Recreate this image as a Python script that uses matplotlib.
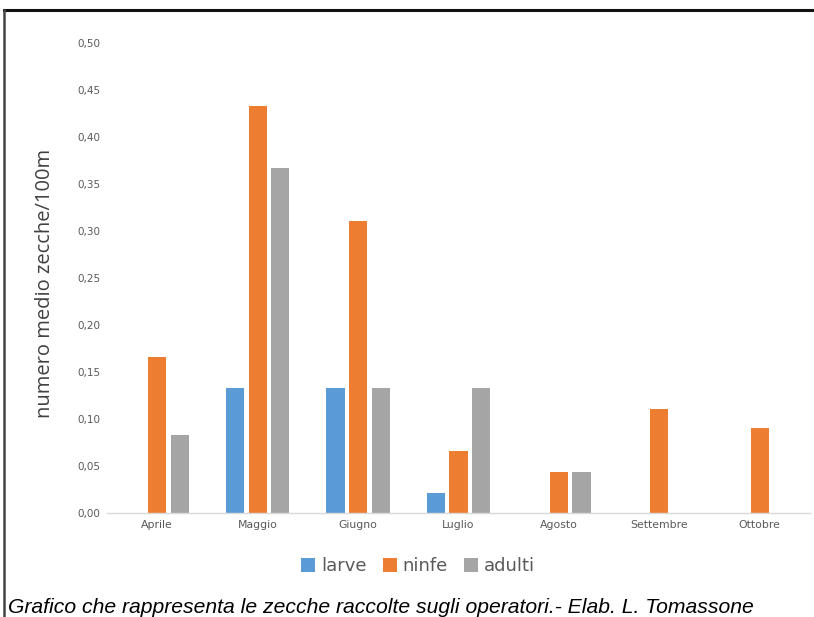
import numpy as np
import matplotlib.pyplot as plt
from matplotlib.lines import Line2D

mesi = ['Aprile', 'Maggio', 'Giugno', 'Luglio', 'Agosto', 'Settembre', 'Ottobre']
larve = [0, 0.133, 0.133, 0.021, 0, 0, 0]
ninfe = [0.166, 0.433, 0.311, 0.066, 0.044, 0.111, 0.090]
adulti = [0.083, 0.367, 0.133, 0.133, 0.044, 0, 0]
yticks = [0.0, 0.05, 0.10, 0.15, 0.20, 0.25, 0.30, 0.35, 0.40, 0.45, 0.50]

c_larve = '#5B9BD5'
c_ninfe = '#ED7D31'
c_adulti = '#A5A5A5'
grigio = '#595959'

fig = plt.figure(figsize=(8.14, 6.17), dpi=100)
ax = fig.add_axes([107 / 814, 1 - 513 / 617, 703 / 814, 470 / 617])

x = np.arange(len(mesi))
w = 0.18
off = 0.225
ax.bar(x - off, larve, w, color=c_larve, label='larve')
ax.bar(x, ninfe, w, color=c_ninfe, label='ninfe')
ax.bar(x + off, adulti, w, color=c_adulti, label='adulti')

ax.set_xlim(-0.5, len(mesi) - 0.5)
ax.set_ylim(0, 0.5)
ax.set_yticks(yticks)
ax.set_yticklabels([f'{v:.2f}'.replace('.', ',') for v in yticks],
                   fontsize=7.5, color=grigio)
ax.set_xticks(x)
ax.set_xticklabels(mesi, fontsize=7.8, color=grigio)
ax.tick_params(length=0, pad=5)
for s in ['top', 'right', 'left']:
    ax.spines[s].set_visible(False)
ax.spines['bottom'].set_color('#D9D9D9')
ax.spines['bottom'].set_linewidth(1)

fig.text(45 / 814, 1 - 283 / 617, 'numero medio zecche/100m', rotation=90,
         ha='center', va='center', fontsize=14.5, color='#404040', family='Open Sans')

fig.legend(loc='center', bbox_to_anchor=(418 / 814, 1 - 566 / 617), ncol=3,
           frameon=False, handlelength=0.8, handleheight=0.8, handletextpad=0.3,
           columnspacing=0.9, prop={'size': 13}, labelcolor=grigio)

fig.text(8 / 814, 1 - 613 / 617, 'Grafico che rappresenta le zecche raccolte sugli operatori.- Elab. L. Tomassone',
         ha='left', va='baseline', fontsize=15.2, style='italic', family='Liberation Sans',
         color='black')

# cornice
fig.add_artist(Line2D([4 / 814, 1], [1 - 10 / 617, 1 - 10 / 617], color='#111111', lw=2.2))
fig.add_artist(Line2D([4 / 814, 4 / 814], [1 - 10 / 617, 0], color='#444444', lw=1.8))

fig.savefig('out.png', dpi=100)
